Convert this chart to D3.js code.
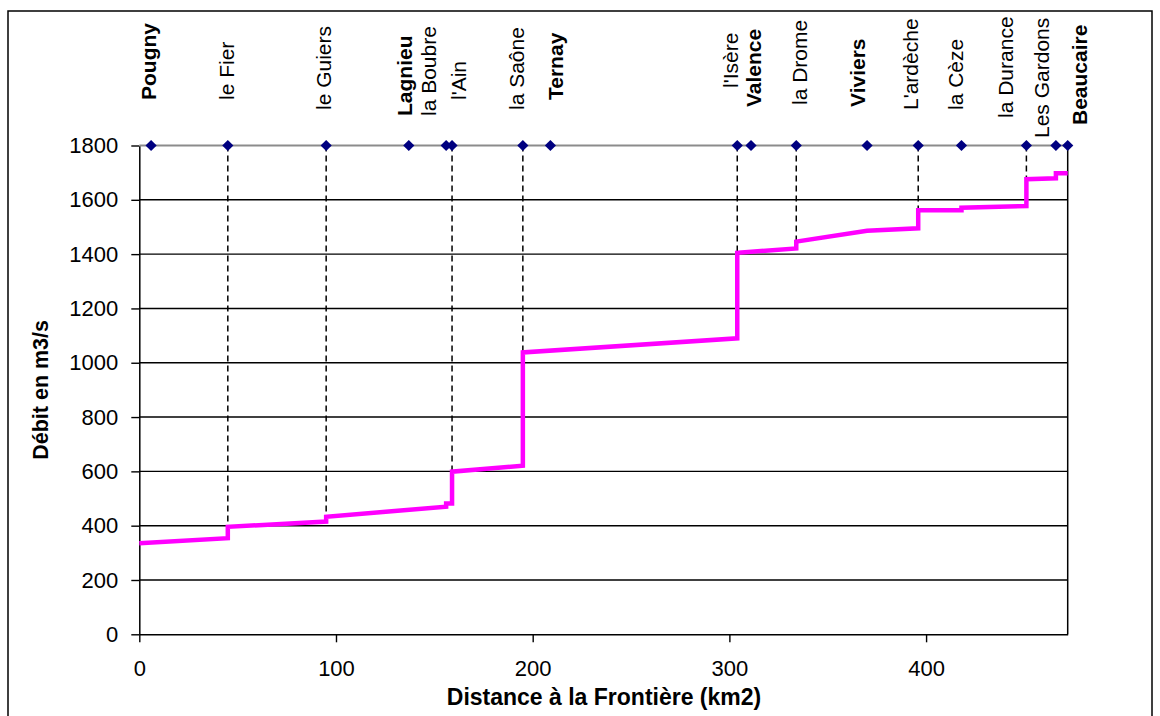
<!DOCTYPE html>
<html>
<head>
<meta charset="utf-8">
<script src="https://cdn.jsdelivr.net/npm/d3@7/dist/d3.min.js"></script>
<style>
  html, body { margin: 0; padding: 0; background: #fff; }
  svg { display: block; font-family: "Liberation Sans", Arial, sans-serif; }
</style>
</head>
<body>
<svg id="chart" width="1160" height="716"></svg>
<script>
// Lieux le long du Rhône (villes et affluents) et leur distance à la frontière
const places = ["Pougny", "le Fier", "le Guiers", "Lagnieu", "la Boubre", "l'Ain", "la Saône", "Ternay",
  "l'Isère", "Valence", "la Drome", "Viviers", "L'ardèche", "la Cèze", "la Durance", "Les Gardons", "Beaucaire"];
const placeKm = [6, 45, 95, 137, 156, 159, 195, 209, 304, 311, 334, 370, 396, 418, 451, 466, 472];
const placeKind = ["ville", "affluent", "affluent", "ville", "affluent", "affluent", "affluent", "ville",
  "affluent", "ville", "affluent", "ville", "affluent", "affluent", "affluent", "affluent", "ville"];
// Affluents repérés par un trait pointillé jusqu'à la courbe de débit
const markedRivers = ["le Fier", "le Guiers", "l'Ain", "la Saône", "l'Isère", "la Drome", "L'ardèche", "la Durance"];

// Profil du débit (m3/s) en fonction de la distance (km)
const profileKm = [0, 45, 45, 95, 95, 156, 156, 159, 159, 195, 195, 304, 304, 334, 334, 370, 396, 396,
  418, 418, 451, 451, 466, 466, 472];
const profileDebit = [335, 354, 396, 415, 433, 470, 482, 482, 599, 621, 1038, 1090, 1405, 1421, 1446, 1486, 1495, 1562,
  1562, 1571, 1577, 1676, 1679, 1698, 1698];

// Ligne de repère des lieux
const markerLevel = 1800;

// Graduations
const xTicks = [0, 100, 200, 300, 400];
const yTicks = [0, 200, 400, 600, 800, 1000, 1200, 1400, 1600, 1800];

// Mise en page
const plot = { left: 139.3, right: 1067.7, top: 145.5, bottom: 634.3 };
const labelShiftX = [-3, -1, -3, -4, -18, 6, -6, 5, -7, 2, 3, -10, -8, -6, -21, -14, 12];
const labelEndY = [100, 100, 110, 116, 116, 100, 110, 100, 88, 107, 105, 107, 110, 110, 118, 138, 125];

const svg = d3.select("#chart");
svg.append("rect").attr("width", 1160).attr("height", 716).attr("fill", "#fff");
svg.append("rect")
  .attr("x", 8).attr("y", 11).attr("width", 1144).attr("height", 720)
  .attr("fill", "none").attr("stroke", "#000").attr("stroke-width", 1.5);

const x = d3.scaleLinear().domain([0, placeKm[placeKm.length - 1]]).range([plot.left, plot.right]);
const y = d3.scaleLinear().domain([0, 1800]).range([plot.bottom, plot.top]);

// Quadrillage horizontal
svg.append("g")
  .selectAll("line")
  .data(yTicks.filter(v => v > 0 && v < markerLevel))
  .join("line")
  .attr("x1", plot.left).attr("x2", plot.right)
  .attr("y1", d => y(d)).attr("y2", d => y(d))
  .attr("stroke", "#000").attr("stroke-width", 1.4);

// Bord droit de la zone de tracé
svg.append("line")
  .attr("x1", plot.right).attr("x2", plot.right)
  .attr("y1", y(markerLevel)).attr("y2", y(0))
  .attr("stroke", "#000").attr("stroke-width", 1.5);

// Axes
const fmt = d3.format("d");
const xAxis = svg.append("g")
  .attr("transform", `translate(0,${plot.bottom})`)
  .call(d3.axisBottom(x).tickValues(xTicks).tickFormat(fmt).tickSize(8).tickSizeOuter(0).tickPadding(18));
const yAxis = svg.append("g")
  .attr("transform", `translate(${plot.left},0)`)
  .call(d3.axisLeft(y).tickValues(yTicks).tickFormat(fmt).tickSize(8).tickSizeOuter(0).tickPadding(13));
[xAxis, yAxis].forEach(g => {
  g.select(".domain").attr("stroke", "#000").attr("stroke-width", 1.5);
  g.selectAll(".tick line").attr("stroke", "#000").attr("stroke-width", 1.4);
  g.selectAll(".tick text")
    .attr("fill", "#000")
    .style("font-family", "'Liberation Sans', Arial, sans-serif")
    .style("font-size", "22px");
});

// Traits pointillés des affluents
function debitAt(km) {
  const vals = profileKm.map((k, i) => k === km ? profileDebit[i] : null).filter(v => v !== null);
  return d3.max(vals);
}
svg.append("g")
  .selectAll("line")
  .data(places.map((p, i) => ({ name: p, km: placeKm[i] })).filter(d => markedRivers.includes(d.name)))
  .join("line")
  .attr("x1", d => x(d.km)).attr("x2", d => x(d.km))
  .attr("y1", y(markerLevel)).attr("y2", d => y(debitAt(d.km)))
  .attr("stroke", "#000").attr("stroke-width", 1.5).attr("stroke-dasharray", "6,4");

// Courbe de débit
const profile = profileKm.map((k, i) => [k, profileDebit[i]]);
svg.append("path")
  .datum(profile)
  .attr("d", d3.line().x(d => x(d[0])).y(d => y(d[1])))
  .attr("fill", "none").attr("stroke", "#ff00ff").attr("stroke-width", 4.5)
  .attr("stroke-linejoin", "miter");

// Ligne des lieux à 1800
svg.append("line")
  .attr("x1", plot.left).attr("x2", plot.right)
  .attr("y1", y(markerLevel)).attr("y2", y(markerLevel))
  .attr("stroke", "#8c8c8c").attr("stroke-width", 2);

svg.append("g")
  .selectAll("path")
  .data(placeKm)
  .join("path")
  .attr("transform", d => `translate(${x(d)},${y(markerLevel)})`)
  .attr("d", d3.symbol(d3.symbolDiamond2, 80))
  .attr("fill", "#000080");

// Noms des lieux
svg.append("g")
  .selectAll("text")
  .data(places)
  .join("text")
  .attr("transform", (d, i) => `translate(${x(placeKm[i]) + labelShiftX[i]},${labelEndY[i]}) rotate(-90)`)
  .attr("text-anchor", "start")
  .attr("dominant-baseline", "central")
  .attr("font-size", 21)
  .attr("font-weight", (d, i) => placeKind[i] === "ville" ? "bold" : "normal")
  .attr("fill", "#000")
  .text(d => d);

// Titres des axes
svg.append("text")
  .attr("x", 604).attr("y", 705)
  .attr("text-anchor", "middle")
  .attr("font-size", 23).attr("font-weight", "bold")
  .text("Distance à la Frontière (km2)");
svg.append("text")
  .attr("transform", `translate(41,${(plot.top + plot.bottom) / 2}) rotate(-90)`)
  .attr("text-anchor", "middle").attr("dominant-baseline", "central")
  .attr("font-size", 21.5).attr("font-weight", "bold")
  .text("Débit en m3/s");
</script>
</body>
</html>
